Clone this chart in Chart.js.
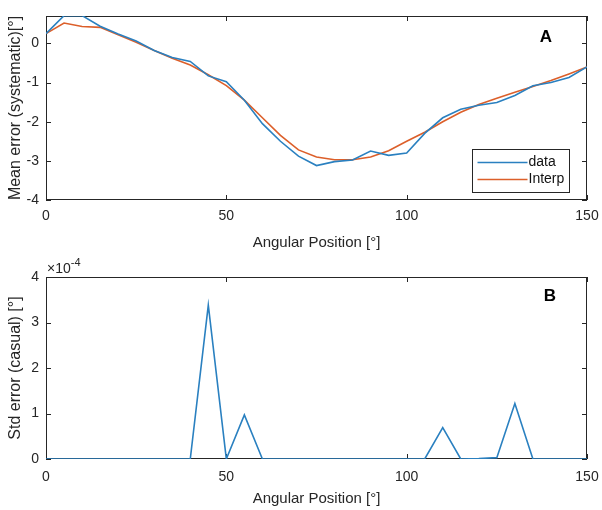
<!DOCTYPE html>
<html><head><meta charset="utf-8">
<script src="https://cdn.jsdelivr.net/npm/chart.js@4"></script>
<style>
html,body{margin:0;padding:0;background:#fff;}
#wrap{position:relative;width:602px;height:510px;overflow:hidden;}
.box{position:absolute;left:0;width:602px;height:255px;}
canvas{display:block;}
</style></head><body>
<div id="wrap">
<div class="box" style="top:0"><canvas id="cA" width="602" height="255"></canvas></div>
<div class="box" style="top:255px"><canvas id="cB" width="602" height="255"></canvas></div>
</div>
<script>
// ---- data ----
const angles = [0,5,10,15,20,25,30,35,40,45,50,55,60,65,70,75,80,85,90,95,100,105,110,115,120,125,130,135,140,145,150];
const meanData = [0.25,0.71,0.71,0.44,0.24,0.06,-0.18,-0.36,-0.46,-0.83,-0.98,-1.45,-2.05,-2.5,-2.88,-3.12,-3.02,-2.98,-2.75,-2.86,-2.8,-2.3,-1.9,-1.68,-1.58,-1.51,-1.33,-1.08,-1.0,-0.87,-0.6];
const meanInterp = [0.25,0.52,0.43,0.41,0.22,0.03,-0.18,-0.38,-0.55,-0.8,-1.08,-1.45,-1.9,-2.35,-2.72,-2.9,-2.97,-2.97,-2.9,-2.74,-2.5,-2.27,-2.0,-1.76,-1.56,-1.4,-1.25,-1.1,-0.95,-0.78,-0.6];
const stdData = [0,0,0,0,0,0,0,0,0,3.38e-4,0,0.97e-4,0,0,0,0,0,0,0,0,0,0,0.69e-4,0,0.01e-4,0.03e-4,1.22e-4,0,0,0,0];
const xTickValues = [0,50,100,150];
const yTicksA = [-4,-3,-2,-1,0];
const yTicksB = [0,1e-4,2e-4,3e-4,4e-4];
const seriesLabels = ['data','Interp'];
const xTitle = 'Angular Position [°]';
const yTitleA = 'Mean error (systematic)[°]';
const yTitleB = 'Std error (casual) [°]';
const panelA = 'A', panelB = 'B';
const expLabel = ['×10','-4'];

// ---- styles ----
const AX = '#262626';
const BLUE = '#2a80c0';
const ORANGE = '#dc5f2a';
const REG = "'Liberation Sans',Arial,sans-serif";

const pts = (xs, ys) => xs.map((x,i)=>({x, y: ys[i]}));

const frame = {
  id: 'frame',
  beforeDatasetsDraw(chart) {
    const {ctx, chartArea: a, scales: {x, y}} = chart;
    ctx.save();
    ctx.strokeStyle = AX; ctx.lineWidth = 1;
    ctx.strokeRect(Math.round(a.left)+0.5, Math.round(a.top)+0.5, Math.round(a.right-a.left)-1, Math.round(a.bottom-a.top)-1);
    const L = 5;
    ctx.beginPath();
    x.ticks.forEach(t => {
      const p = Math.round(x.getPixelForValue(t.value)) + 0.5;
      ctx.moveTo(p, a.bottom); ctx.lineTo(p, a.bottom - L);
      ctx.moveTo(p, a.top); ctx.lineTo(p, a.top + L);
    });
    y.ticks.forEach(t => {
      const p = Math.round(y.getPixelForValue(t.value)) + 0.5;
      ctx.moveTo(a.left, p); ctx.lineTo(a.left + L, p);
      ctx.moveTo(a.right, p); ctx.lineTo(a.right - L, p);
    });
    ctx.stroke();
    ctx.restore();
  },
  afterDatasetsDraw(chart, args, o) {
    const {ctx, chartArea: a} = chart;
    ctx.save();
    if (o.letter) {
      ctx.fillStyle = '#000';
      ctx.font = 'bold 17px ' + REG;
      ctx.textAlign = 'center'; ctx.textBaseline = 'middle';
      ctx.fillText(o.letter, a.right - o.lx, a.top + o.ly);
    }
    if (o.legend) {
      const w = 97, h = 43;
      const bx = Math.round(a.right - 18 - w) + 0.5, by = Math.round(a.bottom - 8 - h) + 0.5;
      ctx.fillStyle = '#fff';
      ctx.fillRect(bx, by, w, h);
      ctx.strokeStyle = AX; ctx.lineWidth = 1; ctx.strokeRect(bx, by, w, h);
      ctx.font = '14px ' + REG;
      ctx.textAlign = 'left'; ctx.textBaseline = 'middle';
      chart.data.datasets.forEach((ds, i) => {
        const yy = by + 13 + i * 17;
        ctx.strokeStyle = ds.borderColor; ctx.lineWidth = 1.6;
        ctx.beginPath(); ctx.moveTo(bx + 5, yy); ctx.lineTo(bx + 55, yy); ctx.stroke();
        ctx.fillStyle = '#111';
        ctx.fillText(ds.label, bx + 56, yy);
      });
    }
    if (o.exp) {
      ctx.fillStyle = AX;
      ctx.textAlign = 'left'; ctx.textBaseline = 'alphabetic';
      ctx.font = '14px ' + REG;
      ctx.fillText(o.exp[0], a.left + 1, a.top - 4);
      const w0 = ctx.measureText(o.exp[0]).width;
      ctx.font = '11px ' + REG;
      ctx.fillText(o.exp[1], a.left + 1 + w0, a.top - 11);
    }
    ctx.restore();
  }
};

function makeOptions(yMin, yMax, yTicks, yTitle, fmt, pad, xH, lblPad, titleBottom, fr) {
  return {
    responsive: false, animation: false,
    layout: {padding: pad},
    plugins: {legend: {display: false}, tooltip: {enabled: false}, frame: fr},
    elements: {point: {radius: 0}, line: {tension: 0}},
    scales: {
      x: {
        type: 'linear', min: 0, max: 150,
        grid: {display: false, drawTicks: false}, border: {display: false},
        afterBuildTicks: s => { s.ticks = xTickValues.map(v => ({value: v})); },
        afterFit: s => { s.height = xH; s.paddingLeft = 0; s.paddingRight = 0; },
        ticks: {color: AX, font: {family: REG, size: 14}, padding: lblPad, maxRotation: 0, autoSkip: false},
        title: {display: true, text: xTitle, color: AX, font: {family: REG, size: 15}, padding: {top: 0, bottom: titleBottom}}
      },
      y: {
        type: 'linear', min: yMin, max: yMax,
        grid: {display: false, drawTicks: false}, border: {display: false},
        afterBuildTicks: s => { s.ticks = yTicks.map(v => ({value: v})); },
        afterFit: s => { s.width = 46; s.paddingTop = 0; s.paddingBottom = 0; },
        ticks: {color: AX, font: {family: REG, size: 14}, padding: 7, autoSkip: false, callback: fmt},
        title: {display: true, text: yTitle, color: AX, font: {family: REG, size: 16}, padding: {top: 6, bottom: 0}}
      }
    }
  };
}

new Chart(document.getElementById('cA'), {
  type: 'line',
  data: {datasets: [
    {label: seriesLabels[0], data: pts(angles, meanData), borderColor: BLUE, borderWidth: 1.6, fill: false},
    {label: seriesLabels[1], data: pts(angles, meanInterp), borderColor: ORANGE, borderWidth: 1.6, fill: false}
  ]},
  options: makeOptions(-4, 0.7, yTicksA, yTitleA, v => String(v), {left: 0, top: 16, right: 15, bottom: 0}, 55, 8, 3,
    {letter: panelA, lx: 41, ly: 21, legend: true}),
  plugins: [frame]
});

new Chart(document.getElementById('cB'), {
  type: 'line',
  data: {datasets: [
    {label: seriesLabels[0], data: pts(angles, stdData), borderColor: BLUE, borderWidth: 1.6, fill: false}
  ]},
  options: makeOptions(0, 4e-4, yTicksB, yTitleB, v => String(Math.round(v / 1e-4)), {left: 0, top: 22, right: 15, bottom: 0}, 51, 10, 2,
    {letter: panelB, lx: 37, ly: 19, legend: false, exp: expLabel}),
  plugins: [frame]
});
</script>
</body></html>
